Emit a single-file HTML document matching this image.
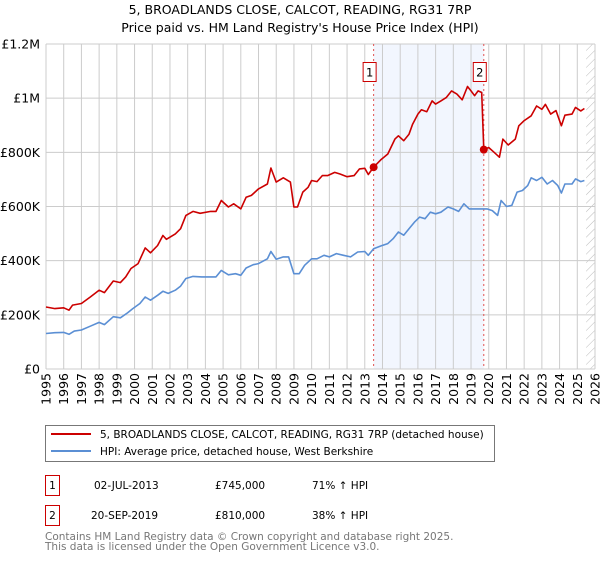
<!DOCTYPE html>
<html><head><meta charset="utf-8"><style>
body{margin:0;background:#fff;width:600px;height:560px;overflow:hidden;font-family:"Liberation Sans","DejaVu Sans",sans-serif}
svg text{font-family:"DejaVu Sans","Liberation Sans",sans-serif}
</style></head><body>
<svg id="chart" width="600" height="560" viewBox="0 0 600 560">
<defs><pattern id="hatch" width="6" height="6" patternUnits="userSpaceOnUse" patternTransform="rotate(45)"><line x1="0" y1="0" x2="0" y2="6" stroke="#bbb" stroke-width="1"/></pattern></defs>
<text x="300" y="14" text-anchor="middle" font-size="12.5" fill="#000">5, BROADLANDS CLOSE, CALCOT, READING, RG31 7RP</text>
<text x="300" y="32" text-anchor="middle" font-size="12.5" fill="#000">Price paid vs. HM Land Registry's House Price Index (HPI)</text>
<g id="grid"></g><g id="axes"></g><g id="series"></g>
<rect x="45.5" y="425.5" width="449" height="36" fill="#fff" stroke="#777" stroke-width="1"/>
<line x1="51" y1="434" x2="91" y2="434" stroke="#cc0000" stroke-width="2"/>
<text x="100" y="438" font-size="10.5">5, BROADLANDS CLOSE, CALCOT, READING, RG31 7RP (detached house)</text>
<line x1="51" y1="451" x2="91" y2="451" stroke="#5b8fd4" stroke-width="2"/>
<text x="100" y="455" font-size="10.5">HPI: Average price, detached house, West Berkshire</text>
<g>
<rect x="45.5" y="475.5" width="14" height="20" fill="#fff" stroke="#cc0000"/>
<text x="52.5" y="489" text-anchor="middle" font-size="10.5">1</text>
<text x="94" y="489" font-size="10.5">02-JUL-2013</text>
<text x="215" y="489" font-size="10.5">£745,000</text>
<text x="312" y="489" font-size="10.5">71% ↑ HPI</text></g>
<g>
<rect x="45.5" y="505.5" width="14" height="20" fill="#fff" stroke="#cc0000"/>
<text x="52.5" y="519" text-anchor="middle" font-size="10.5">2</text>
<text x="91" y="519" font-size="10.5">20-SEP-2019</text>
<text x="215" y="519" font-size="10.5">£810,000</text>
<text x="312" y="519" font-size="10.5">38% ↑ HPI</text></g>
<text x="45" y="540" font-size="10.5" fill="#777">Contains HM Land Registry data © Crown copyright and database right 2025.</text>
<text x="45" y="550" font-size="10.5" fill="#777">This data is licensed under the Open Government Licence v3.0.</text>
</svg>
<script>
const yearTicks=[1995,1996,1997,1998,1999,2000,2001,2002,2003,2004,2005,2006,2007,2008,2009,2010,2011,2012,2013,2014,2015,2016,2017,2018,2019,2020,2021,2022,2023,2024,2025,2026];
const yTicks=[0,200000,400000,600000,800000,1000000,1200000];
const yTickLabels=["£0","£200K","£400K","£600K","£800K","£1M","£1.2M"];
const saleDates=[2013.5,2019.72];
const salePrices=[745000,810000];
const saleLabels=["1","2"];
const redYears=[1995.0,1995.5,1996.0,1996.3,1996.5,1997.0,1997.5,1998.0,1998.3,1998.8,1999.2,1999.5,1999.8,2000.2,2000.6,2000.9,2001.3,2001.6,2001.8,2002.3,2002.6,2002.9,2003.3,2003.7,2004.3,2004.6,2004.9,2005.3,2005.6,2006.0,2006.3,2006.6,2007.0,2007.5,2007.7,2008.0,2008.4,2008.8,2009.0,2009.2,2009.5,2009.8,2010.0,2010.3,2010.6,2010.9,2011.3,2011.6,2012.0,2012.4,2012.7,2013.0,2013.2,2013.5,2013.9,2014.3,2014.7,2014.9,2015.2,2015.5,2015.7,2016.0,2016.2,2016.5,2016.8,2017.0,2017.3,2017.6,2017.9,2018.2,2018.5,2018.8,2019.0,2019.2,2019.4,2019.6,2019.72,2020.0,2020.3,2020.6,2020.8,2021.1,2021.5,2021.7,2022.0,2022.4,2022.7,2023.0,2023.2,2023.5,2023.8,2024.1,2024.3,2024.7,2024.9,2025.2,2025.4];
const redValues=[229,223,226,217,236,242,266,291,282,325,319,340,371,389,447,429,456,493,479,499,518,567,582,575,582,582,622,598,610,591,634,641,665,683,742,690,706,690,598,598,653,671,696,692,714,714,726,720,710,714,739,741,718,745,772,794,849,861,843,867,904,941,957,950,990,978,990,1002,1027,1015,994,1043,1027,1009,1027,1021,810,818,800,782,849,827,849,898,917,935,971,959,977,941,954,898,937,941,966,953,962];
const blueYears=[1995.0,1995.5,1996.0,1996.3,1996.6,1997.0,1997.5,1998.0,1998.3,1998.8,1999.2,1999.6,1999.9,2000.3,2000.6,2000.9,2001.3,2001.6,2001.9,2002.3,2002.6,2002.9,2003.3,2003.8,2004.3,2004.6,2004.9,2005.3,2005.7,2006.0,2006.3,2006.7,2007.0,2007.5,2007.7,2008.0,2008.4,2008.7,2009.0,2009.3,2009.6,2010.0,2010.3,2010.7,2011.0,2011.4,2011.8,2012.2,2012.6,2013.0,2013.2,2013.5,2013.9,2014.3,2014.6,2014.9,2015.2,2015.5,2015.8,2016.1,2016.4,2016.7,2017.0,2017.3,2017.7,2018.0,2018.3,2018.6,2018.9,2019.3,2019.6,2019.9,2020.2,2020.5,2020.7,2021.0,2021.3,2021.6,2021.9,2022.2,2022.4,2022.7,2023.0,2023.3,2023.6,2023.9,2024.1,2024.3,2024.7,2024.9,2025.2,2025.4];
const blueValues=[131,134,135,128,140,144,158,172,164,193,189,207,223,242,266,254,272,287,279,291,306,334,342,340,340,340,364,348,352,346,373,385,389,407,434,405,414,414,352,352,383,407,407,420,414,426,420,414,432,434,420,444,454,463,481,506,494,518,542,561,555,579,573,579,598,591,582,610,591,591,591,591,585,567,622,600,604,653,659,677,706,696,708,683,696,677,650,683,683,702,692,696];

const X0=46,X1=595,Y0=369,Y1=44;
function xs(y){return X0+(y-1995)/31*(X1-X0);}
function ys(v){return Y0-v/1200000*(Y0-Y1);}
const NS="http://www.w3.org/2000/svg";
function mk(parent,tag,attrs){const e=document.createElementNS(NS,tag);for(const k in attrs)e.setAttribute(k,attrs[k]);parent.appendChild(e);return e;}
const grid=document.getElementById('grid'),axes=document.getElementById('axes'),series=document.getElementById('series');
let sh=mk(grid,'rect',{x:xs(saleDates[0]),y:Y1,width:xs(saleDates[1])-xs(saleDates[0]),height:Y0-Y1,fill:'#eef3fd',opacity:0.75});


let ht=mk(grid,'rect',{x:xs(2025.5),y:Y1,width:X1-xs(2025.5),height:Y0-Y1,fill:'url(#hatch)'});


yearTicks.forEach(yr=>{
  const x=xs(yr);
  const l=mk(grid,'line',{x1:x,y1:Y1,x2:x,y2:Y0,stroke:'#ccc','stroke-width':1});
  
  
  const t=mk(axes,'text',{x:0,y:0,'font-size':12.5,'text-anchor':'end',transform:`translate(${x+4.5},373) rotate(-90)`});
  t.textContent=yr;
  
  
});
yTicks.forEach((v,i)=>{
  const y=ys(v);
  const l=mk(grid,'line',{x1:X0,y1:y,x2:X1,y2:y,stroke:'#ccc','stroke-width':1});
  
  
  const t=mk(axes,'text',{x:40,y:y+4.5,'font-size':12.5,'text-anchor':'end'});
  t.textContent=yTickLabels[i];
  
  
});
saleDates.forEach((d,i)=>{
  const x=xs(d);
  const l=mk(grid,'line',{x1:x,y1:Y1,x2:x,y2:Y0,stroke:'#e05050','stroke-width':1,'stroke-dasharray':'2,3'});
  
  
});
function path(xsArr,vs,col,name){
  const d=xsArr.map((yr,i)=>(i?'L':'M')+xs(yr).toFixed(1)+','+ys(vs[i]*1000).toFixed(1)).join('');
  const p=mk(series,'path',{d:d,fill:'none',stroke:col,'stroke-width':1.6,'stroke-linejoin':'round'});
  
  
}
path(blueYears,blueValues,'#5b8fd4','hpi-line');
path(redYears,redValues,'#cc0000','property-price-line');
saleDates.forEach((d,i)=>{
  const c=mk(series,'circle',{cx:xs(d),cy:ys(salePrices[i]),r:4,fill:'#cc0000'});
  
  
  const bx=xs(d)-11;
  const r=mk(series,'rect',{x:bx+0.5,y:62.5,width:13,height:19,fill:'#fff',stroke:'#cc0000'});
  
  
  const t=mk(series,'text',{x:bx+7,y:76.5,'font-size':11.5,'text-anchor':'middle'});
  t.textContent=saleLabels[i];
  
  
});
</script>
</body></html>
